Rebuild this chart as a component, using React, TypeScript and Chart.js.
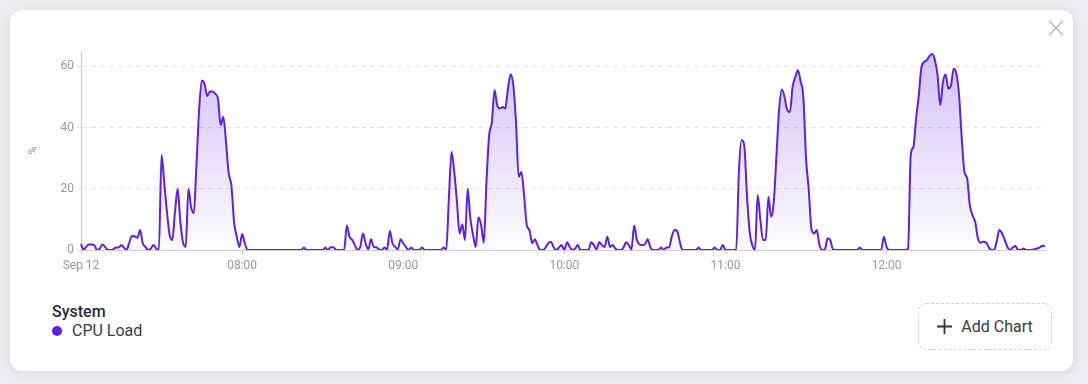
import React, { useEffect, useRef } from "react";
import { Chart, registerables } from "chart.js";

Chart.register(...registerables);

// ---- data ----
const DAY_LABEL = "Sep 12";
const START_HOUR = 7;
const SERIES_GROUP = "System";
const SERIES_NAME = "CPU Load";
const Y_TITLE = "%";
const Y_MAX = 65;
const Y_STEP = 20;

// CPU load (%) per minute, 07:00 .. 12:59
const CPU_LOAD: number[] = [
  2, 0, 1.2, 1.8, 1.8, 1.5, 0, 0.5, 1.8, 1,
  0, 0, 0.2, 0.8, 0.8, 1.6, 0.8, 0, 2.5, 4.6,
  4.5, 4, 6.5, 2.2, 1, 0, 0.5, 1.6, 0.5, 0,
  31, 22, 12.5, 5, 3.3, 12.5, 20, 9.2, 2.4, 1,
  20, 14, 12, 28, 46, 55.4, 54.3, 50.3, 51.8, 51.8,
  51, 49.5, 40.8, 43.5, 35.3, 25, 21.2, 9.2, 4.3, 1,
  5.2, 2.2, 0, 0, 0, 0, 0, 0, 0, 0,
  0, 0, 0, 0, 0, 0, 0, 0, 0, 0,
  0, 0, 0, 0.7, 0, 0, 0, 0, 0, 0,
  0, 0.7, 0, 0.9, 0.9, 0, 0, 0, 0, 8,
  4.3, 3.3, 1.6, 0, 1, 5.4, 2.2, 0.2, 3.5, 1,
  0.9, 0.2, 0, 0.8, 0.2, 6.2, 2.2, 1, 0.2, 3.5,
  2.2, 1, 0, 0.8, 0, 0, 0, 0.8, 0, 0,
  0, 0, 0, 0, 0, 0.8, 0, 16.8, 32, 25.5,
  15.8, 5.4, 8.4, 3.3, 20, 10.3, 4.9, 1, 10.7, 8.2,
  2.4, 22.3, 37.5, 41.8, 52.2, 47.3, 46.2, 46.7, 46.2, 52.7,
  57.4, 53.8, 41.8, 23.9, 25.5, 17.9, 8.2, 6.5, 2.2, 3.5,
  1.6, 0, 0, 0.8, 2.2, 2.7, 0.9, 0, 0.8, 1.6,
  0, 2.5, 1, 0, 0.5, 1.6, 0, 0, 0, 0,
  2.5, 1.6, 0.2, 2.5, 1.6, 1, 4.3, 1, 1.6, 0.5,
  0, 0, 0.8, 2.5, 1.6, 0.2, 8, 3.3, 1.8, 1.6,
  1.8, 3.5, 1, 0, 0, 0, 0.8, 0, 0.8, 0.8,
  4.3, 6.5, 6.2, 2.7, 0, 0, 0, 0, 0, 0,
  0.8, 0, 0, 0, 0, 0, 0.8, 0, 0, 1.6,
  0, 0, 0, 0, 0, 25.5, 35.9, 34.2, 18, 6,
  1.6, 0, 18, 9.8, 3.3, 3.3, 17.4, 10.9, 15.8, 31,
  46.2, 52.4, 50, 45.7, 45.1, 53.3, 56.5, 58.7, 55, 50,
  30, 20, 7, 5.4, 6.5, 1.6, 0, 0, 3.8, 3.3,
  0.3, 0, 0, 0, 0, 0, 0, 0, 0, 0,
  0.8, 0, 0, 0, 0, 0, 0, 0, 0, 4.3,
  1, 0, 0, 0, 0, 0, 0, 0, 0.5, 31,
  33.7, 43, 50.5, 59.8, 61.4, 62, 63.4, 64, 62, 57,
  47.3, 54.9, 57.3, 52.7, 53.8, 59.2, 57.6, 50.5, 36.4, 25.5,
  23.4, 14.7, 11.4, 9.2, 3.8, 2.4, 2.7, 2.5, 1, 0,
  0, 2.7, 6.5, 5.4, 3.3, 1, 0, 0.8, 1.3, 0,
  0, 0.5, 0, 0, 0, 0.2, 0.5, 0.8, 1.4, 1.3,
];

const LINE_COLOR = "rgb(94, 33, 228)";
const FONT = "Roboto, 'Noto Sans', sans-serif";

const pad = (n: number) => (n < 10 ? "0" + n : String(n));
const TIME_LABELS: string[] = CPU_LOAD.map((_, i) => {
  const h = START_HOUR + Math.floor(i / 60);
  const m = i % 60;
  return `${pad(h)}:${pad(m)}`;
});

export default function App() {
  const canvasRef = useRef<HTMLCanvasElement | null>(null);

  useEffect(() => {
    document.body.style.margin = "0";
    const canvas = canvasRef.current;
    if (!canvas) return;
    Chart.defaults.font.family = FONT;
    const chart = new Chart(canvas, {
      type: "line",
      data: {
        labels: TIME_LABELS,
        datasets: [
          {
            label: SERIES_NAME,
            data: CPU_LOAD,
            borderColor: LINE_COLOR,
            borderWidth: 2,
            pointRadius: 0,
            pointHoverRadius: 0,
            cubicInterpolationMode: "monotone",
            fill: "origin",
            backgroundColor: (ctx: any) => {
              const area = ctx.chart.chartArea;
              if (!area) return "rgba(94,33,228,0.15)";
              const g = ctx.chart.ctx.createLinearGradient(0, area.top, 0, area.bottom);
              g.addColorStop(0, "rgba(94,33,228,0.28)");
              g.addColorStop(1, "rgba(94,33,228,0.01)");
              return g;
            },
          },
        ],
      },
      options: {
        animation: false,
        responsive: false,
        events: [],
        layout: { padding: { top: 11, right: 15, left: 0, bottom: 0 } },
        plugins: {
          legend: { display: false },
          tooltip: { enabled: false },
        },
        scales: {
          x: {
            type: "category",
            offset: false,
            afterFit: (s: any) => {
              s.height = 30;
            },
            grid: {
              drawOnChartArea: false,
              drawTicks: true,
              tickLength: 4,
              tickColor: "rgba(205,202,222,1)",
              color: "rgba(205,202,222,1)",
            },
            border: { display: true, color: "rgba(205,202,222,1)", width: 1 },
            ticks: {
              autoSkip: false,
              maxRotation: 0,
              minRotation: 0,
              padding: 5,
              color: "#97979f",
              font: { size: 12, family: FONT },
              callback: (_v: any, i: number) => {
                const lab = TIME_LABELS[i];
                if (!lab || !lab.endsWith(":00")) return null;
                return i === 0 ? DAY_LABEL : lab;
              },
            },
          },
          y: {
            min: 0,
            max: Y_MAX,
            afterFit: (s: any) => {
              s.width = 61;
            },
            title: {
              display: true,
              text: Y_TITLE,
              color: "#8e8e96",
              font: { size: 11, family: FONT },
              padding: { top: 7, bottom: 0 },
            },
            grid: {
              color: "rgba(228,228,234,1)",
              tickLength: 4,
              tickColor: "rgba(228,228,234,1)",
            },
            border: { display: true, color: "rgba(205,202,222,1)", width: 1, dash: [5, 4] },
            ticks: {
              stepSize: Y_STEP,
              includeBounds: false,
              padding: 3,
              color: "#97979f",
              font: { size: 12, family: FONT },
            },
          },
        },
      } as any,
    });
    return () => chart.destroy();
  }, []);

  return (
    <div
      style={{
        position: "relative",
        width: 1088,
        height: 384,
        background: "#ececf1",
        overflow: "hidden",
        fontFamily: FONT,
      }}
    >
      <div
        style={{
          position: "absolute",
          left: 10,
          top: 10,
          width: 1063,
          height: 361,
          background: "#ffffff",
          borderRadius: 12,
          boxShadow: "0 2px 8px rgba(40,40,70,0.10)",
        }}
      >
        <canvas
          ref={canvasRef}
          width={1040}
          height={240}
          style={{ position: "absolute", left: 10, top: 30, width: 1040, height: 240 }}
        />
        <svg
          width={16}
          height={16}
          viewBox="0 0 16 16"
          style={{ position: "absolute", left: 1038, top: 10 }}
        >
          <path d="M1 1 L15 15 M15 1 L1 15" stroke="#c6c6cc" strokeWidth={2} fill="none" />
        </svg>
        <div
          style={{
            position: "absolute",
            left: 42,
            top: 292,
            lineHeight: "19px",
            fontSize: 16,
          }}
        >
          <div style={{ color: "#2b2b33", fontWeight: 500 }}>{SERIES_GROUP}</div>
          <div style={{ display: "flex", alignItems: "center", color: "#3c3c44" }}>
            <span
              style={{
                display: "inline-block",
                width: 10,
                height: 10,
                borderRadius: 5,
                background: LINE_COLOR,
                marginRight: 10,
              }}
            />
            <span>{SERIES_NAME}</span>
          </div>
        </div>
        <div
          style={{
            position: "absolute",
            left: 908,
            top: 293,
            width: 132,
            height: 45,
            border: "1px dashed #d2d2da",
            borderRadius: 8,
            display: "flex",
            alignItems: "center",
            justifyContent: "center",
            color: "#3a3a42",
            fontSize: 16,
          }}
        >
          <svg width={15} height={15} viewBox="0 0 15 15" style={{ marginRight: 9 }}>
            <path d="M7.5 0 V15 M0 7.5 H15" stroke="#333338" strokeWidth={1.8} fill="none" />
          </svg>
          <span>Add Chart</span>
        </div>
      </div>
    </div>
  );
}
